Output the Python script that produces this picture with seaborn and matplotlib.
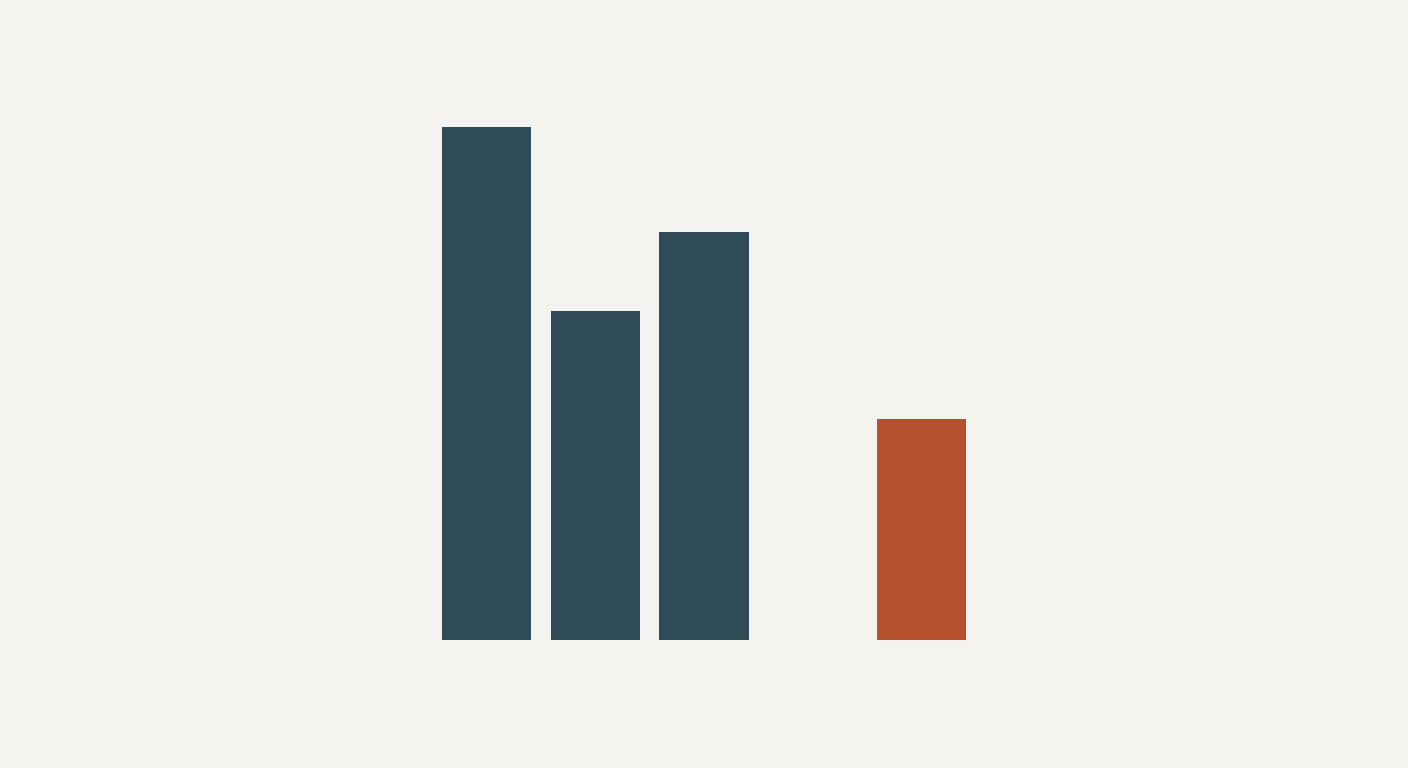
import numpy as np
import pandas as pd
import seaborn as sns
import matplotlib.pyplot as plt

# chart data
categories = ['A', 'B', 'C', 'D', 'E']
values = [100, 64.2, 79.5, np.nan, 43]
bar_colors = ['#2F4B58', '#2F4B58', '#2F4B58', '#2F4B58', '#B5512F']

df = pd.DataFrame({'cat': categories, 'val': values})

bg = '#F4F3EF'
sns.set_style('white')

fig = plt.figure(figsize=(14.08, 7.68), dpi=100, facecolor=bg)
ax = fig.add_axes([0, 0, 1, 1])
ax.set_facecolor(bg)

sns.barplot(data=df, x='cat', y='val', hue='cat', palette=bar_colors,
            legend=False, width=0.82, saturation=1, linewidth=0, ax=ax)

# centre the group on the third slot, baseline at 640 px
ax.set_xlim(2 - 704 / 108.75, 2 + 704 / 108.75)
px = 5.13
ax.set_ylim(-128 / px, 640 / px)

ax.set_axis_off()

fig.savefig('out.png', dpi=100, facecolor=bg)
